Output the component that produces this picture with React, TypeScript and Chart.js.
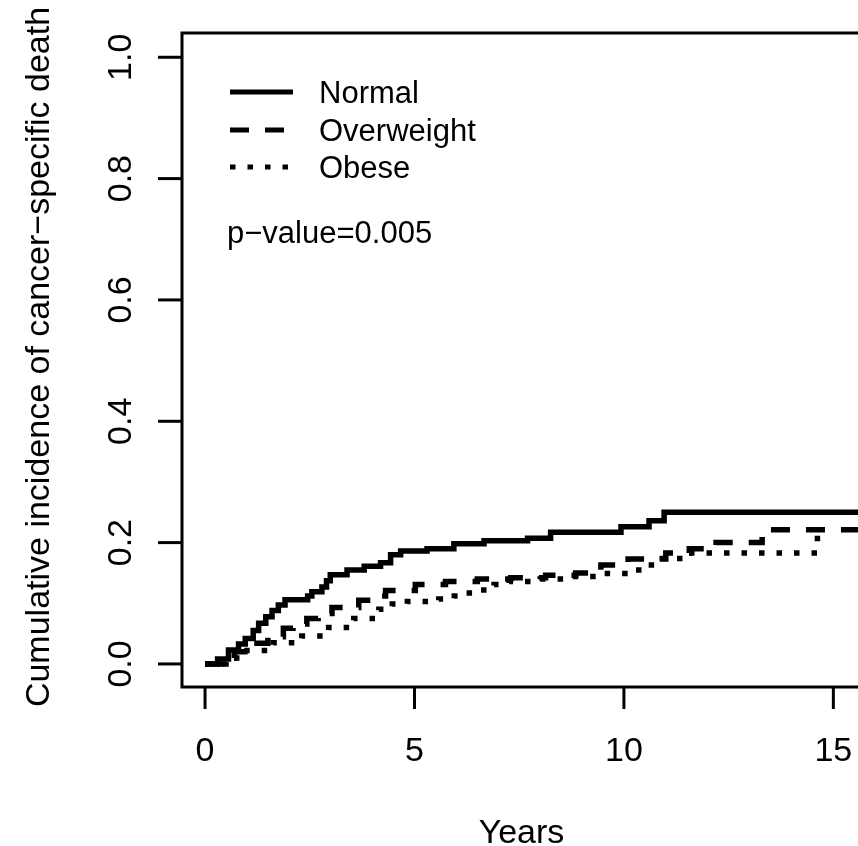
import React, { useEffect, useRef } from "react";
import { Chart, registerables } from "chart.js";

Chart.register(...registerables);

// ---- Data ----
const seriesNames = ["Normal", "Overweight", "Obese"];

const normalYears = [0, 0.3, 0.56, 0.8, 0.96, 1.15, 1.28, 1.45, 1.6, 1.75, 1.91, 2.45, 2.55, 2.79, 2.9, 2.99, 3.39, 3.8, 4.19, 4.43, 4.67, 5.3, 5.94, 6.66, 7.7, 8.25, 9.93, 10.6, 10.96, 15.7];
const normalCif = [0, 0.008, 0.023, 0.033, 0.042, 0.055, 0.067, 0.078, 0.088, 0.097, 0.106, 0.112, 0.119, 0.127, 0.137, 0.147, 0.155, 0.161, 0.167, 0.18, 0.186, 0.19, 0.198, 0.203, 0.207, 0.217, 0.226, 0.236, 0.25, 0.25];

const overweightYears = [0, 0.4, 0.7, 0.95, 1.24, 1.5, 1.87, 2.1, 2.43, 2.7, 3.03, 3.67, 4.0, 4.31, 5.02, 5.74, 6.5, 7.3, 8.13, 8.85, 9.45, 10.1, 11.0, 11.56, 12.2, 13.3, 15.7];
const overweightCif = [0, 0.01, 0.02, 0.027, 0.034, 0.045, 0.059, 0.066, 0.075, 0.083, 0.093, 0.105, 0.112, 0.121, 0.131, 0.136, 0.14, 0.142, 0.146, 0.15, 0.163, 0.173, 0.183, 0.19, 0.2, 0.221, 0.221];

const obeseYears = [0, 0.5, 1.0, 1.63, 2.31, 2.95, 3.55, 4.15, 4.47, 4.83, 5.58, 5.95, 6.2, 6.58, 6.9, 7.26, 8.0, 8.73, 9.45, 10.2, 10.49, 10.8, 11.52, 14.62];
const obeseCif = [0, 0.01, 0.022, 0.035, 0.046, 0.06, 0.075, 0.09, 0.099, 0.103, 0.107, 0.112, 0.117, 0.122, 0.131, 0.136, 0.14, 0.144, 0.149, 0.155, 0.163, 0.174, 0.183, 0.221];

const xTicks = [0, 5, 10, 15];
const xTickLabels = ["0", "5", "10", "15"];
const yTicks = [0, 0.2, 0.4, 0.6, 0.8, 1.0];
const yTickLabels = ["0.0", "0.2", "0.4", "0.6", "0.8", "1.0"];

const xTitle = "Years";
const yTitle = "Cumulative incidence of cancer\u2212specific death";
const pValueText = "p\u2212value=0.005";

// ---- Styles ----
const FONT = '"Liberation Sans", Arial, sans-serif';
const LINE_W = 5.5;
const LEGEND_W = 5;
const DASH = [19, 16];
const DOT = [5.5, 12];
const dashes = [[], DASH, DOT];

const toPoints = (xs: number[], ys: number[]) => xs.map((x, i) => ({ x, y: ys[i] }));

const rPlotPlugin = {
  id: "rPlot",
  afterDraw(chart: any) {
    const { ctx, chartArea: ca, scales } = chart;
    const xs = scales.x;
    const ys = scales.y;
    ctx.save();
    ctx.strokeStyle = "#000";
    ctx.fillStyle = "#000";
    ctx.lineWidth = 3;
    ctx.setLineDash([]);
    // box
    ctx.strokeRect(ca.left, ca.top, ca.right - ca.left, ca.bottom - ca.top);

    // x ticks
    ctx.font = `34px ${FONT}`;
    ctx.textAlign = "center";
    ctx.textBaseline = "alphabetic";
    xTicks.forEach((t, i) => {
      const px = xs.getPixelForValue(t);
      ctx.beginPath();
      ctx.moveTo(px, ca.bottom);
      ctx.lineTo(px, ca.bottom + 22);
      ctx.stroke();
      ctx.fillText(xTickLabels[i], px, 761);
    });
    // x title
    ctx.fillText(xTitle, (ca.left + ca.right) / 2, 843);

    // y ticks
    yTicks.forEach((t, i) => {
      const py = ys.getPixelForValue(t);
      ctx.beginPath();
      ctx.moveTo(ca.left, py);
      ctx.lineTo(ca.left - 24, py);
      ctx.stroke();
      ctx.save();
      ctx.translate(131, py);
      ctx.rotate(-Math.PI / 2);
      ctx.fillText(yTickLabels[i], 0, 0);
      ctx.restore();
    });
    // y title
    ctx.save();
    ctx.translate(49, (ca.top + ca.bottom) / 2 - 3);
    ctx.rotate(-Math.PI / 2);
    ctx.fillText(yTitle, 0, 0);
    ctx.restore();

    // legend
    ctx.font = `31px ${FONT}`;
    ctx.textAlign = "left";
    const legendY = [92, 130, 167];
    const baseY = [103, 141, 178];
    seriesNames.forEach((name, i) => {
      ctx.lineWidth = LEGEND_W;
      ctx.lineCap = "butt";
      ctx.setLineDash(dashes[i]);
      ctx.beginPath();
      ctx.moveTo(230, legendY[i]);
      ctx.lineTo(293, legendY[i]);
      ctx.stroke();
      ctx.setLineDash([]);
      ctx.fillText(name, 319, baseY[i]);
    });
    ctx.fillText(pValueText, 227, 243);
    ctx.restore();
  },
};

export default function App() {
  const ref = useRef<HTMLCanvasElement | null>(null);
  useEffect(() => {
    if (!ref.current) return;
    const chart = new Chart(ref.current, {
      type: "line",
      data: {
        datasets: [
          { label: seriesNames[0], data: toPoints(normalYears, normalCif), borderDash: [] },
          { label: seriesNames[1], data: toPoints(overweightYears, overweightCif), borderDash: DASH },
          { label: seriesNames[2], data: toPoints(obeseYears, obeseCif), borderDash: DOT },
        ].map((d) => ({
          ...d,
          stepped: "before" as const,
          borderColor: "#000",
          backgroundColor: "#000",
          borderWidth: LINE_W,
          borderCapStyle: "butt" as const,
          borderJoinStyle: "miter" as const,
          pointRadius: 0,
          fill: false,
          tension: 0,
        })),
      },
      options: {
        responsive: false,
        animation: false,
        devicePixelRatio: 1,
        layout: { padding: { left: 182, top: 33, right: 39, bottom: 159 } },
        scales: {
          x: { type: "linear", min: -0.55, max: 15.66, display: false },
          y: { type: "linear", min: -0.038, max: 1.04, display: false },
        },
        plugins: { legend: { display: false }, tooltip: { enabled: false } },
        events: [],
      },
      plugins: [rPlotPlugin],
    });
    return () => chart.destroy();
  }, []);
  return (
    <div
      style={{
        position: "fixed",
        left: 0,
        top: 0,
        width: 858,
        height: 846,
        overflow: "hidden",
        background: "#fff",
      }}
    >
      <canvas ref={ref} width={900} height={846} style={{ display: "block" }} />
    </div>
  );
}
